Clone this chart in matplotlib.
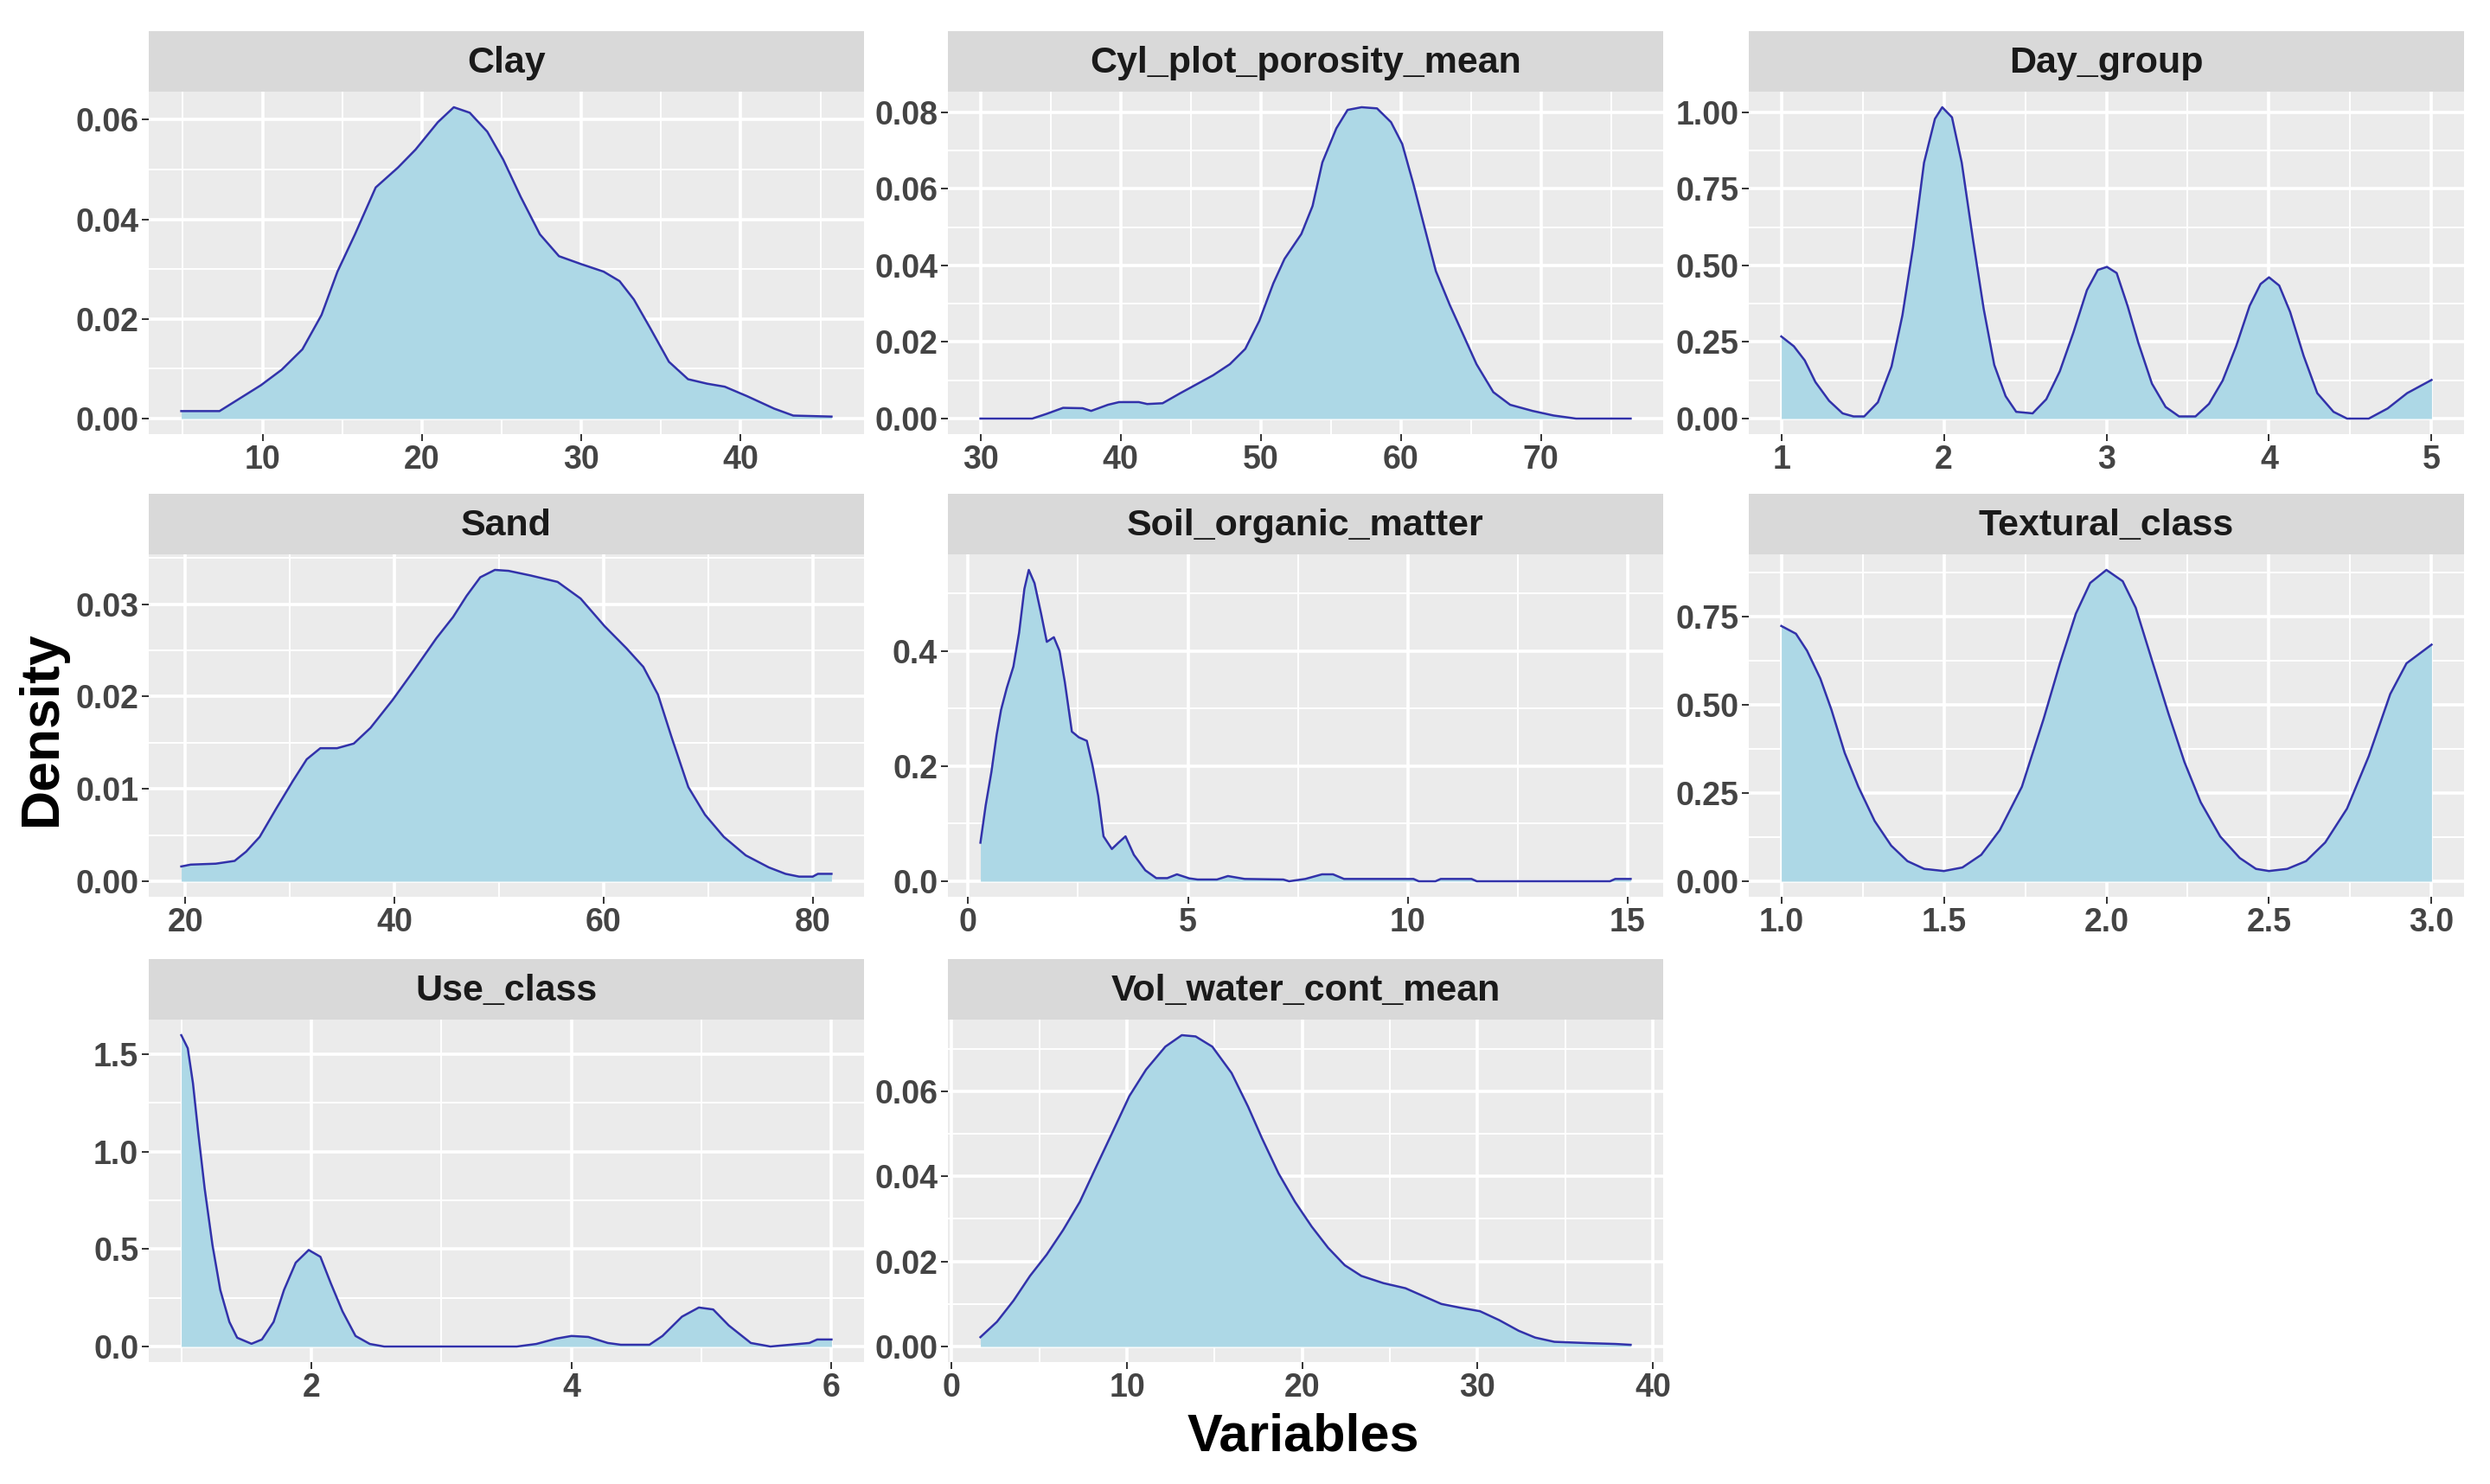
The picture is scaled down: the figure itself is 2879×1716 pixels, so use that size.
import matplotlib
matplotlib.use("Agg")
import matplotlib.pyplot as plt
import numpy as np

plt.rcParams['font.family'] = ['Liberation Sans', 'DejaVu Sans']

# ---- data (density curves) ----
clay_x = [4.9, 7.3, 8.5, 9.9, 11.2, 12.5, 13.7, 14.7, 15.8, 17.1, 18.5, 19.6, 21.0, 22.0, 23.0,
          24.1, 25.1, 26.2, 27.4, 28.6, 30.0, 31.4, 32.4, 33.3, 34.3, 35.5, 36.7, 37.9, 39.0,
          40.4, 42.1, 43.3, 45.7]
clay_y = [0.0015, 0.0015, 0.0039, 0.0067, 0.0098, 0.0139, 0.0208, 0.0295, 0.037, 0.0464, 0.0504,
          0.054, 0.0595, 0.0625, 0.0614, 0.0576, 0.052, 0.0445, 0.037, 0.0326, 0.031, 0.0295,
          0.0276, 0.0239, 0.0183, 0.0114, 0.0079, 0.007, 0.0064, 0.0045, 0.002, 0.0006, 0.0004]

poro_x = [30.0, 33.7, 34.7, 35.9, 37.3, 37.9, 39.1, 39.9, 41.3, 41.9, 43.0, 44.2, 45.4, 46.6,
          47.8, 48.9, 49.9, 50.9, 51.7, 52.9, 53.7, 54.4, 55.4, 56.2, 57.2, 58.3, 59.3, 60.1,
          60.9, 61.7, 62.5, 63.5, 64.5, 65.4, 66.6, 67.8, 69.4, 70.9, 72.5, 76.4]
poro_y = [0.0, 0.0, 0.0012, 0.0028, 0.0027, 0.002, 0.0036, 0.0043, 0.0043, 0.0038, 0.004, 0.0065,
          0.0089, 0.0113, 0.0142, 0.0182, 0.0255, 0.0353, 0.0417, 0.0482, 0.0555, 0.0669, 0.0758,
          0.0806, 0.0813, 0.081, 0.0774, 0.0717, 0.0612, 0.0498, 0.0385, 0.0296, 0.0215, 0.0142,
          0.0069, 0.0036, 0.002, 0.0008, 0.0, 0.0]

day_x = [1.0, 1.077, 1.144, 1.21, 1.294, 1.377, 1.444, 1.51, 1.594, 1.678, 1.745, 1.811, 1.878,
         1.945, 1.99, 2.05, 2.11, 2.18, 2.245, 2.31, 2.38, 2.445, 2.546, 2.63, 2.713, 2.797, 2.88,
         2.947, 3.003, 3.063, 3.13, 3.197, 3.28, 3.364, 3.447, 3.548, 3.631, 3.715, 3.798, 3.881,
         3.948, 4.0, 4.063, 4.13, 4.213, 4.297, 4.397, 4.48, 4.614, 4.73, 4.85, 5.0]
day_y = [0.268, 0.236, 0.19, 0.119, 0.058, 0.017, 0.007, 0.007, 0.053, 0.17, 0.337, 0.561, 0.835,
         0.978, 1.016, 0.983, 0.835, 0.581, 0.358, 0.175, 0.073, 0.022, 0.017, 0.063, 0.154, 0.281,
         0.419, 0.485, 0.495, 0.475, 0.368, 0.246, 0.114, 0.038, 0.007, 0.007, 0.048, 0.124, 0.236,
         0.368, 0.439, 0.461, 0.434, 0.348, 0.205, 0.083, 0.022, 0.0, 0.0, 0.033, 0.083, 0.126]

sand_x = [19.6, 20.5, 22.9, 24.7, 25.8, 27.1, 28.7, 30.3, 31.6, 32.9, 34.5, 36.1, 37.7, 39.8,
          41.9, 44.0, 45.6, 46.9, 48.2, 49.6, 50.9, 53.0, 55.6, 57.8, 60.1, 62.2, 63.8, 65.2,
          66.5, 68.1, 69.7, 71.5, 73.6, 75.8, 77.4, 78.7, 80.0, 80.5, 81.8]
sand_y = [0.0016, 0.0018, 0.0019, 0.0022, 0.0032, 0.0048, 0.0079, 0.0109, 0.0132, 0.0144, 0.0144,
          0.0149, 0.0166, 0.0196, 0.0229, 0.0263, 0.0286, 0.0309, 0.0329, 0.0337, 0.0336, 0.0331,
          0.0324, 0.0306, 0.0276, 0.0252, 0.0232, 0.0202, 0.0156, 0.0102, 0.0072, 0.0048, 0.0028,
          0.0015, 0.0008, 0.0005, 0.0005, 0.0008, 0.0008]

som_x = [0.28, 0.4, 0.53, 0.65, 0.75, 0.88, 1.03, 1.16, 1.28, 1.38, 1.51, 1.66, 1.79, 1.95, 2.08,
         2.2, 2.36, 2.52, 2.7, 2.83, 2.96, 3.08, 3.27, 3.42, 3.58, 3.77, 4.03, 4.28, 4.53, 4.75,
         5.03, 5.22, 5.66, 5.91, 6.29, 7.17, 7.3, 7.67, 8.05, 8.3, 8.55, 10.13, 10.25, 10.63,
         10.75, 11.45, 11.57, 14.6, 14.72, 15.07]
som_y = [0.067, 0.132, 0.19, 0.255, 0.298, 0.336, 0.373, 0.432, 0.508, 0.541, 0.518, 0.465, 0.416,
         0.424, 0.4, 0.346, 0.26, 0.25, 0.244, 0.201, 0.148, 0.078, 0.056, 0.067, 0.078, 0.046,
         0.019, 0.0054, 0.0054, 0.012, 0.005, 0.003, 0.003, 0.009, 0.004, 0.003, 0.0, 0.004, 0.012,
         0.012, 0.004, 0.004, 0.0, 0.0, 0.004, 0.004, 0.0, 0.0, 0.004, 0.004]

tex_x = [1.0, 1.045, 1.079, 1.12, 1.154, 1.195, 1.237, 1.287, 1.338, 1.388, 1.44, 1.5, 1.557,
         1.615, 1.672, 1.74, 1.807, 1.857, 1.906, 1.95, 2.0, 2.05, 2.09, 2.14, 2.19, 2.24, 2.29,
         2.35, 2.41, 2.46, 2.5, 2.556, 2.614, 2.673, 2.74, 2.807, 2.873, 2.923, 3.0]
tex_y = [0.724, 0.702, 0.654, 0.575, 0.487, 0.364, 0.268, 0.171, 0.101, 0.057, 0.035, 0.029, 0.039,
         0.075, 0.145, 0.268, 0.461, 0.618, 0.759, 0.846, 0.883, 0.851, 0.776, 0.627, 0.478, 0.338,
         0.224, 0.127, 0.066, 0.035, 0.029, 0.035, 0.057, 0.11, 0.206, 0.355, 0.531, 0.618, 0.671]

use_x = [1.0, 1.05, 1.09, 1.13, 1.18, 1.24, 1.3, 1.37, 1.43, 1.54, 1.62, 1.71, 1.79, 1.88, 1.98,
         2.07, 2.15, 2.24, 2.34, 2.45, 2.56, 3.58, 3.73, 3.88, 4.0, 4.13, 4.28, 4.38, 4.6, 4.7,
         4.85, 4.98, 5.09, 5.21, 5.38, 5.53, 5.68, 5.83, 5.89, 6.0]
use_y = [1.597, 1.53, 1.35, 1.10, 0.81, 0.52, 0.29, 0.126, 0.045, 0.014, 0.036, 0.126, 0.29, 0.43,
         0.495, 0.46, 0.324, 0.18, 0.054, 0.013, 0.0, 0.0, 0.013, 0.04, 0.054, 0.049, 0.018, 0.009,
         0.009, 0.054, 0.153, 0.2, 0.19, 0.108, 0.018, 0.0, 0.009, 0.018, 0.036, 0.036]

vwc_x = [1.64, 2.58, 3.53, 4.47, 5.42, 6.36, 7.31, 8.25, 9.2, 10.14, 11.09, 12.19, 13.13, 13.92,
         14.87, 15.97, 16.91, 17.7, 18.65, 19.59, 20.54, 21.48, 22.43, 23.37, 24.63, 25.89, 26.83,
         27.94, 29.04, 30.14, 31.24, 32.35, 33.29, 34.39, 36.28, 37.86, 38.74]
vwc_y = [0.0022, 0.0058, 0.0108, 0.0166, 0.0216, 0.0274, 0.034, 0.0423, 0.0506, 0.0589, 0.0651,
         0.0705, 0.0732, 0.0729, 0.0705, 0.0643, 0.0564, 0.049, 0.0407, 0.034, 0.0282, 0.0232,
         0.0191, 0.0166, 0.0149, 0.0137, 0.012, 0.01, 0.0091, 0.0083, 0.0062, 0.0037, 0.0021,
         0.0011, 0.0008, 0.0006, 0.0004]

titles = ["Clay", "Cyl_plot_porosity_mean", "Day_group", "Sand", "Soil_organic_matter",
          "Textural_class", "Use_class", "Vol_water_cont_mean"]
xs = [clay_x, poro_x, day_x, sand_x, som_x, tex_x, use_x, vwc_x]
ys = [clay_y, poro_y, day_y, sand_y, som_y, tex_y, use_y, vwc_y]
xticks = [[10, 20, 30, 40], [30, 40, 50, 60, 70], [1, 2, 3, 4, 5], [20, 40, 60, 80],
          [0, 5, 10, 15], [1.0, 1.5, 2.0, 2.5, 3.0], [2, 4, 6], [0, 10, 20, 30, 40]]
yticks = [[0, 0.02, 0.04, 0.06], [0, 0.02, 0.04, 0.06, 0.08], [0, 0.25, 0.5, 0.75, 1.0],
          [0, 0.01, 0.02, 0.03], [0, 0.2, 0.4], [0, 0.25, 0.5, 0.75], [0, 0.5, 1.0, 1.5],
          [0, 0.02, 0.04, 0.06]]
xfmt = ["%d", "%d", "%d", "%d", "%d", "%.1f", "%d", "%d"]
yfmt = ["%.2f", "%.2f", "%.2f", "%.2f", "%.1f", "%.2f", "%.1f", "%.2f"]

# ---- layout (pixels of a 2879x1716 canvas) ----
W, H = 2879, 1716
col_left = [172, 1096, 2022]
row_top = [106, 641, 1179]
pw, ph, sh = 827, 396, 70

fill_col = "#ADD8E6"
line_col = "#3232AA"
tick_col = "#444444"


def minor_of(major, lo, hi):
    step = major[1] - major[0]
    cand = [major[0] - step / 2] + [m + step / 2 for m in major]
    return [c for c in cand if lo <= c <= hi]


fig = plt.figure(figsize=(W / 100, H / 100), dpi=100)

for i, title in enumerate(titles):
    r, c = divmod(i, 3)
    left = col_left[c] / W
    bottom = 1 - (row_top[r] + ph) / H
    ax = fig.add_axes([left, bottom, pw / W, ph / H])
    x = np.array(xs[i])
    y = np.array(ys[i])

    x0, x1 = x.min(), x.max()
    xpad = (x1 - x0) * 0.05
    ymax = y.max()
    ypad = ymax * 0.05
    ax.set_xlim(x0 - xpad, x1 + xpad)
    ax.set_ylim(-ypad, ymax + ypad)

    ax.set_facecolor("#EBEBEB")
    for m in minor_of(xticks[i], x0 - xpad, x1 + xpad):
        ax.axvline(m, color="white", lw=1.4, zorder=0)
    for m in minor_of(yticks[i], -ypad, ymax + ypad):
        ax.axhline(m, color="white", lw=1.4, zorder=0)
    for m in xticks[i]:
        ax.axvline(m, color="white", lw=2.6, zorder=0)
    for m in yticks[i]:
        ax.axhline(m, color="white", lw=2.6, zorder=0)

    ax.fill_between(x, 0, y, color=fill_col, lw=0, zorder=1)
    ax.plot(x, y, color=line_col, lw=1.8, zorder=2)

    ax.set_xticks(xticks[i])
    ax.set_xticklabels([xfmt[i] % v for v in xticks[i]], fontweight="bold")
    ax.set_yticks(yticks[i])
    ax.set_yticklabels([yfmt[i] % v for v in yticks[i]], fontweight="bold")
    ax.tick_params(axis="both", length=5.5, width=1.4, color="#333333",
                   labelsize=27, labelcolor=tick_col, pad=3)
    for s in ax.spines.values():
        s.set_visible(False)

    # facet strip
    sax = fig.add_axes([left, 1 - row_top[r] / H, pw / W, sh / H])
    sax.set_facecolor("#D9D9D9")
    sax.set_xticks([])
    sax.set_yticks([])
    for s in sax.spines.values():
        s.set_visible(False)
    sax.text(0.5, 0.47, title, ha="center", va="center", fontsize=31,
             fontweight="bold", color="#1A1A1A", transform=sax.transAxes)

fig.text(48 / W, 1 - 842 / H, "Density", rotation=90, ha="center", va="center",
         fontsize=45, fontweight="bold", color="black")
fig.text(1507 / W, 1 - 1662 / H, "Variables", ha="center", va="center",
         fontsize=44, fontweight="bold", color="black")

fig.savefig("out.png", dpi=100, facecolor="white")
